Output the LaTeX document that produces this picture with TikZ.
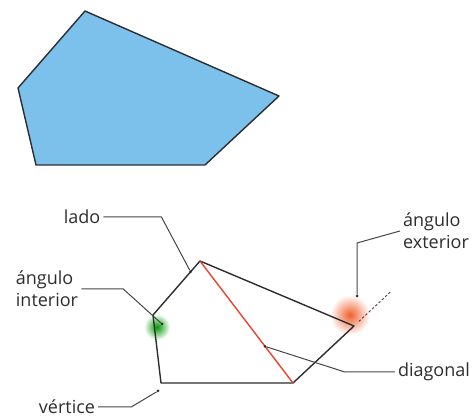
\documentclass[tikz,border=0pt]{standalone}
\usepackage{fontspec}
\setmainfont{Open Sans}
\usepackage{tikz}
\usetikzlibrary{calc}
\definecolor{polyblue}{RGB}{124,192,236}
\definecolor{edgegray}{RGB}{45,45,45}
\definecolor{leadgray}{RGB}{70,70,70}
\definecolor{diagred}{RGB}{232,69,44}
\definecolor{glowred}{RGB}{240,95,45}

\begin{document}
\begin{tikzpicture}[x=1pt,y=-1pt,
        edge/.style={draw=edgegray, line width=1.4pt, line join=round},
        leader/.style={draw=leadgray, line width=1pt},
        tag/.style={text=edgegray, font=\fontsize{18}{22}\selectfont, inner sep=3pt, align=left},
        pin/.style={circle, fill=edgegray, inner sep=0pt, minimum size=3pt}]
            \useasboundingbox (0,0) rectangle (475,417);
            % polygon filled
            \draw[edge, fill=polyblue] (85,11) -- (279,96) -- (205,165) -- (36,165) -- (18,88) -- cycle;

            % labelled polygon
            \coordinate (A) at (200,261); \coordinate (B) at (354,326); \coordinate (C) at (293,383);
            \coordinate (D) at (161,383); \coordinate (E) at (153,315);
            \shade[inner color=green!60!black, outer color=white] ($(E)+(4,12)$) circle (13);
            \shade[inner color=glowred, outer color=white] ($(B)+(-4,-11)$) circle (20);
            \draw[edge] (A) -- (B) -- (C) -- (D) -- (E) -- cycle;
            \draw[diagred, line width=1.4pt] (A) -- (C);
            \draw[leadgray, line width=0.9pt, dash pattern=on 2.5pt off 2pt] ($(C)!1.08!(B)$) -- ($(C)!1.6!(B)$);

            % labels
            \node[tag] (lado) at (82,217) {lado};
            \node[tag] (angint) at (47,289) {ángulo\\interior};
            \node[tag] (vert) at (67,407) {vértice};
            \node[tag] (angext) at (436,231) {ángulo\\exterior};
            \node[tag] (diag) at (434,372) {diagonal};

            \node[pin] (p-lado) at ($(E)!0.8!(A)$) {};
            \node[pin] (p-int) at ($(E)+(9,9)$) {};
            \node[pin] (p-vert) at ($(D)+(-3,8)$) {};
            \node[pin] (p-ext) at ($(B)+(3,-30)$) {};
            \node[pin] (p-diag) at ($(A)!0.7!(C)$) {};

            \draw[leader] (lado.east) -- ++(58,0) -- (p-lado);
            \draw[leader] (angint.east) -- ++(42,0) -- (p-int);
            \draw[leader] (vert.east) -- ++(33,0) -- (p-vert);
            \draw[leader] (angext.west) -- (p-ext |- 0,243) -- (p-ext);
            \draw[leader] (diag.west) -- ++(-50,0) -- (p-diag);
        \end{tikzpicture}
\end{document}
